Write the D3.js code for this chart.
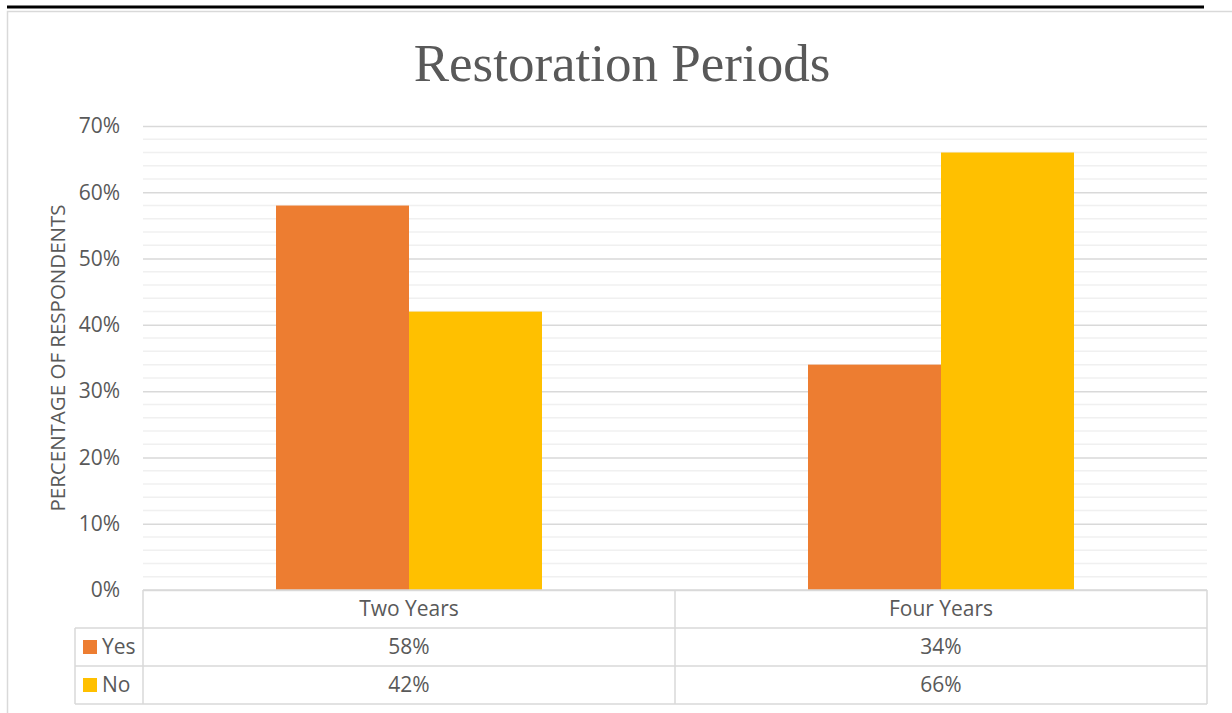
<!DOCTYPE html>
<meta charset="utf-8">
<title>Restoration Periods</title>
<script src="https://d3js.org/d3.v7.min.js"></script>
<style>
  body { margin: 0; background: #fff; }
  text { font-family: "Open Sans", sans-serif; fill: #595959; }
</style>
<body>
<div id="chart"></div>
<script>

var categories = ["Two Years", "Four Years"];
var seriesNames = ["Yes", "No"];
var yesValues = [0.58, 0.34];
var noValues = [0.42, 0.66];
var yTicks = [0, 0.1, 0.2, 0.3, 0.4, 0.5, 0.6, 0.7];

var colors = { "Yes": "#ED7D31", "No": "#FFC000" };
var seriesValues = { "Yes": yesValues, "No": noValues };

var W = 1232, H = 713;
var margin = {top: 126, right: 25, bottom: 123, left: 143},
    width = W - margin.left - margin.right,
    height = H - margin.top - margin.bottom;

var svg = d3.select("#chart")
  .append("svg")
    .attr("width", W)
    .attr("height", H);

// top black rule and frame
svg.append("line")
  .attr("x1", 7).attr("x2", 1204)
  .attr("y1", 7).attr("y2", 7)
  .attr("stroke", "#000")
  .attr("stroke-width", 3);
svg.append("path")
  .attr("d", "M1232,11.5 H7.5 V713")
  .attr("fill", "none")
  .attr("stroke", "#d9d9d9")
  .attr("stroke-width", 1.5);

svg.append("text")
  .attr("x", 622)
  .attr("y", 81)
  .attr("text-anchor", "middle")
  .style("font-family", "'Liberation Serif', 'Times New Roman', serif")
  .style("font-size", "53px")
  .text("Restoration Periods");

var g = svg.append("g")
  .attr("transform", "translate(" + margin.left + "," + margin.top + ")");

var y = d3.scaleLinear()
  .domain([0, 0.7])
  .range([height, 0]);

var x = d3.scaleBand()
  .domain(categories)
  .range([0, width]);

var xInner = d3.scaleBand()
  .domain(seriesNames)
  .range([x.bandwidth() * 0.25, x.bandwidth() * 0.75]);

// minor gridlines every 2%
var minor = d3.range(0, 71, 2).map(function(d) { return d / 100; })
  .filter(function(d) { return Math.round(d * 100) % 10 !== 0; });
g.selectAll(".minor")
  .data(minor)
  .enter()
  .append("line")
    .attr("x1", 0).attr("x2", width)
    .attr("y1", function(d) { return y(d); })
    .attr("y2", function(d) { return y(d); })
    .attr("stroke", "#f0f0f0")
    .attr("stroke-width", 1.5);

var yAxis = g.append("g")
  .call(d3.axisLeft(y).tickValues(yTicks).tickFormat(d3.format(".0%")).tickSize(-width).tickPadding(23));
yAxis.select(".domain").remove();
yAxis.selectAll(".tick line").attr("stroke", "#d9d9d9").attr("stroke-width", 1.5);
yAxis.selectAll(".tick text")
  .style("font-size", "21px")
  .style("font-family", "'Open Sans', sans-serif")
  .attr("fill", "#595959");

svg.append("text")
  .attr("transform", "translate(65," + (margin.top + height / 2) + ") rotate(-90)")
  .attr("text-anchor", "middle")
  .style("font-size", "20.5px")
  .text("PERCENTAGE OF RESPONDENTS");

// bars
var groups = g.selectAll(".cat")
  .data(categories)
  .enter()
  .append("g")
    .attr("transform", function(d) { return "translate(" + x(d) + ",0)"; });

groups.selectAll("rect")
  .data(function(d, i) {
    return seriesNames.map(function(s) { return {key: s, value: seriesValues[s][i]}; });
  })
  .enter()
  .append("rect")
    .attr("x", function(d) { return xInner(d.key); })
    .attr("width", xInner.bandwidth())
    .attr("y", function(d) { return y(d.value); })
    .attr("height", function(d) { return height - y(d.value); })
    .attr("fill", function(d) { return colors[d.key]; });

// data table
var rowH = 38;
var table = svg.append("g")
  .attr("transform", "translate(0," + (margin.top + height) + ")");
var lineColor = "#d9d9d9";
var legendLeft = 75;

function hline(y0, x1, x2) {
  table.append("line").attr("x1", x1).attr("x2", x2).attr("y1", y0).attr("y2", y0)
    .attr("stroke", lineColor).attr("stroke-width", 1.5);
}
function vline(x0, y1, y2) {
  table.append("line").attr("x1", x0).attr("x2", x0).attr("y1", y1).attr("y2", y2)
    .attr("stroke", lineColor).attr("stroke-width", 1.5);
}

hline(0, margin.left, margin.left + width);
hline(rowH, legendLeft, margin.left + width);
hline(rowH * 2, legendLeft, margin.left + width);
hline(rowH * 3, legendLeft, margin.left + width);
vline(legendLeft, rowH, rowH * 3);
vline(margin.left, 0, rowH * 3);
categories.forEach(function(c) {
  vline(margin.left + x(c) + x.bandwidth(), 0, rowH * 3);
});

table.selectAll(".cathead")
  .data(categories)
  .enter()
  .append("text")
    .attr("x", function(d) { return margin.left + x(d) + x.bandwidth() / 2; })
    .attr("y", rowH / 2 + 7)
    .attr("text-anchor", "middle")
    .style("font-size", "21px")
    .text(function(d) { return d; });

seriesNames.forEach(function(s, si) {
  var ry = rowH * (si + 1);
  table.append("rect")
    .attr("x", 83).attr("y", ry + 12)
    .attr("width", 14).attr("height", 14)
    .attr("fill", colors[s]);
  table.append("text")
    .attr("x", 102).attr("y", ry + rowH / 2 + 7)
    .style("font-size", "21px")
    .text(s);
  table.selectAll(".val" + s)
    .data(seriesValues[s])
    .enter()
    .append("text")
      .attr("x", function(d, i) { return margin.left + x(categories[i]) + x.bandwidth() / 2; })
      .attr("y", ry + rowH / 2 + 7)
      .attr("text-anchor", "middle")
      .style("font-size", "21px")
      .text(function(d) { return d3.format(".0%")(d); });
});

</script>
</body>
